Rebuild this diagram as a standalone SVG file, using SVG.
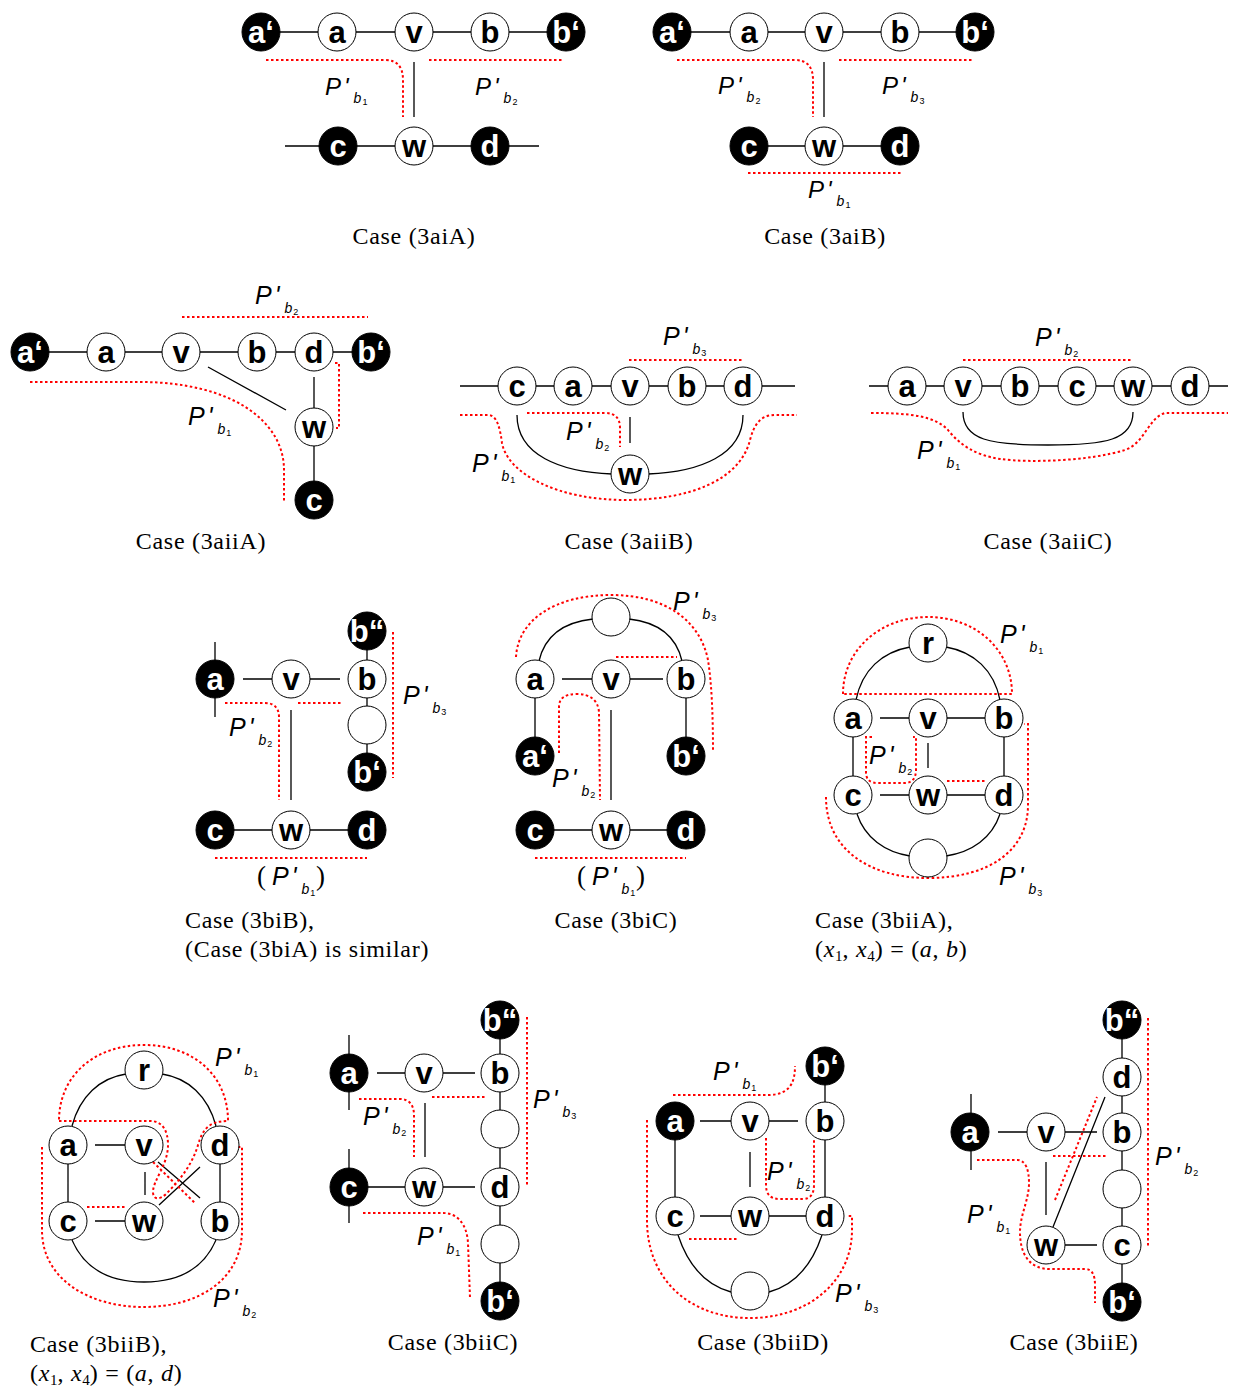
<svg xmlns="http://www.w3.org/2000/svg" width="1233" height="1390" viewBox="0 0 1233 1390">
<style>
.n{fill:#fff;stroke:#000;stroke-width:1}
.k{fill:#000;stroke:#000;stroke-width:1}
.t{font-family:"Liberation Sans",Arial,sans-serif;font-weight:bold;font-size:31px;text-anchor:middle;fill:#000}
.tw{fill:#fff}
.e{fill:none;stroke:#000;stroke-width:1.3}
.r{fill:none;stroke:#f00;stroke-width:2;stroke-dasharray:2.5 2.5}
.pl{font-family:"Liberation Sans",Arial,sans-serif;font-style:italic;font-size:25px;fill:#000}
.pl1{font-family:"Liberation Sans",Arial,sans-serif;font-style:italic;font-size:24px;fill:#000}
.sb{font-size:14px}
.sn{font-size:9px;font-style:normal}
.cap{font-family:"Liberation Serif","Times New Roman",serif;font-size:24px;letter-spacing:0.7px;fill:#000}
.cc{text-anchor:middle}
.mi{font-style:italic}
.ms{font-size:15px;letter-spacing:0}
.par{font-family:"Liberation Serif","Times New Roman",serif;font-size:27px;fill:#000}
</style>
<rect width="1233" height="1390" fill="#fff"/>

<g id="connectors">
<path class="e" d="M261,32 H566 M414,62 V117 M285,146 H539"/>
<path class="e" d="M672,32 H975 M824,62 V117 M749,146 H900"/>
<path class="e" d="M30,352 H371 M208,367 L286,410 M314,377 V408 M314,446 V481"/>
<path class="e" d="M460,386 H795 M630,417 V443 M517,415 C517,455 560,472 612,474 M743,415 C743,455 700,472 648,474"/>
<path class="e" d="M869,386 H1228 M963,412 C963,440 990,445 1048,445 C1106,445 1133,440 1133,412"/>
<path class="e" d="M215,642 V717 M243,679 H272 M310,679 H340 M367,631 V772 M291,710 V800 M215,830 H367"/>
<path class="e" d="M539,661 C545,635 565,622 593,619 M682,661 C676,635 656,622 629,619 M562,679 H592 M630,679 H663 M535,698 V737 M686,698 V737 M611,710 V800 M535,830 H686"/>
<path class="e" d="M856,700 C862,670 882,652 910,647 M1000,700 C994,670 974,652 946,647 M857,814 C865,838 885,852 910,856 M1000,814 C992,838 972,852 946,856 M880,718 H909 M947,718 H985 M853,737 V776 M1004,737 V776 M928,743 V768 M880,795 H909 M947,795 H985"/>
<path class="e" d="M72,1126 C80,1096 100,1078 126,1074 M216,1126 C208,1096 188,1078 162,1074 M72,1240 C85,1270 110,1282 144,1282 C178,1282 203,1270 216,1240 M95,1145 H125 M68,1164 V1202 M220,1164 V1202 M95,1221 H125 M145,1172 V1195 M158,1162 L200,1198 M159,1205 L200,1167"/>
<path class="e" d="M349,1035 V1110 M349,1149 V1223 M377,1073 H405 M443,1073 H475 M349,1187 H405 M443,1187 H475 M500,1020 V1301 M425,1103 V1157"/>
<path class="e" d="M700,1121 H731 M769,1121 H798 M825,1066 V1216 M675,1121 V1216 M750,1152 V1187 M700,1216 H731 M769,1216 H807 M678,1235 C688,1265 705,1285 731,1292 M822,1235 C812,1265 795,1285 769,1292"/>
<path class="e" d="M1122,1020 V1302 M971,1094 V1170 M998,1132 H1027 M1065,1132 H1097 M1065,1245 H1097 M1046,1162 V1215 M1053,1227 L1105,1097"/>
</g>

<g id="paths">
<path class="r" d="M266,60 H385 Q403,60 403,80 V117 M429,60 H564"/>
<path class="r" d="M677,60 H795 Q813,60 813,80 V117 M839,60 H974 M748,173 H902"/>
<path class="r" d="M182,317 H368 M335,363 H339 V428 H336 M30,382 H140 C230,382 284,420 284,470 V503"/>
<path class="r" d="M629,360 H743 M527,413 H605 C615,413 620,418 620,428 V447 M460,415 H488 C497,415 500,428 502,443 C508,475 560,500 625,500 C690,500 740,480 750,440 C754,425 760,415 775,415 H797"/>
<path class="r" d="M963,360 H1133 M871,413 C910,413 935,416 948,430 C960,445 975,455 1000,459 C1030,463 1090,461 1125,450 C1145,443 1148,418 1165,413 H1228"/>
<path class="r" d="M393,632 V778 M225,703 H265 C274,703 279,708 279,717 V800 M298,703 H343 M215,858 H367"/>
<path class="r" d="M516,657 C518,620 555,595 611,595 C665,595 700,620 708,660 C712,685 713,720 713,752 M616,657 H677 M559,753 V707 C559,698 565,694 577,694 C590,694 598,700 599,712 L600,800 M535,858 H686"/>
<path class="r" d="M843,694 C843,650 880,617 928,617 C976,617 1012,650 1012,694 Z M872,737 H866 V772 C866,780 870,783 878,783 H905 C912,783 916,778 916,770 V737 H913 M947,781 H985 M826,797 C826,850 870,878 928,878 C990,878 1028,850 1028,805 V724 H1024"/>
<path class="r" d="M59,1121 L150,1121 C162,1121 168,1130 168,1145 C168,1165 153,1180 153,1192 C153,1200 160,1200 166,1194 C180,1180 192,1165 198,1145 C203,1128 210,1121 228,1121 C228,1075 193,1045 144,1045 C95,1045 59,1075 59,1121 Z M153,1162 L195,1203 M87,1207 H125 M42,1147 V1230 C42,1280 90,1307 144,1307 C198,1307 242,1280 242,1230 V1147 H238"/>
<path class="r" d="M527,1017 V1187 M359,1099 H400 C409,1099 414,1105 414,1115 V1157 M432,1097 H485 M363,1213 H443 C458,1213 467,1225 468,1243 L470,1298"/>
<path class="r" d="M673,1095 H770 C788,1094 795,1085 795,1066 M766,1138 V1185 C766,1195 771,1199 780,1199 H803 C811,1199 814,1193 814,1185 V1140 M689,1239 H738 M647,1120 V1220 C647,1280 690,1318 750,1318 C810,1318 852,1280 852,1230 V1216 H848"/>
<path class="r" d="M1055,1200 L1097,1097 M1053,1156 H1107 M1148,1018 V1246 M977,1160 H1018 C1026,1161 1029,1170 1029,1183 C1029,1200 1020,1215 1020,1232 C1020,1255 1030,1269 1050,1269 H1085 C1092,1269 1095,1275 1095,1285 V1303"/>
</g>

<g id="n1-ap"><circle class="k" cx="261" cy="32" r="19"/><text class="t tw" x="261" y="43">a‘</text></g>
<g id="n1-a"><circle class="n" cx="337" cy="32" r="19"/><text class="t" x="337" y="43">a</text></g>
<g id="n1-v"><circle class="n" cx="414" cy="32" r="19"/><text class="t" x="414" y="43">v</text></g>
<g id="n1-b"><circle class="n" cx="490" cy="32" r="19"/><text class="t" x="490" y="43">b</text></g>
<g id="n1-bp"><circle class="k" cx="566" cy="32" r="19"/><text class="t tw" x="566" y="43">b‘</text></g>
<g id="n1-c"><circle class="k" cx="338" cy="146" r="19"/><text class="t tw" x="338" y="157">c</text></g>
<g id="n1-w"><circle class="n" cx="414" cy="146" r="19"/><text class="t" x="414" y="157">w</text></g>
<g id="n1-d"><circle class="k" cx="490" cy="146" r="19"/><text class="t tw" x="490" y="157">d</text></g>

<g id="n2-ap"><circle class="k" cx="672" cy="32" r="19"/><text class="t tw" x="672" y="43">a‘</text></g>
<g id="n2-a"><circle class="n" cx="749" cy="32" r="19"/><text class="t" x="749" y="43">a</text></g>
<g id="n2-v"><circle class="n" cx="824" cy="32" r="19"/><text class="t" x="824" y="43">v</text></g>
<g id="n2-b"><circle class="n" cx="900" cy="32" r="19"/><text class="t" x="900" y="43">b</text></g>
<g id="n2-bp"><circle class="k" cx="975" cy="32" r="19"/><text class="t tw" x="975" y="43">b‘</text></g>
<g id="n2-c"><circle class="k" cx="749" cy="146" r="19"/><text class="t tw" x="749" y="157">c</text></g>
<g id="n2-w"><circle class="n" cx="824" cy="146" r="19"/><text class="t" x="824" y="157">w</text></g>
<g id="n2-d"><circle class="k" cx="900" cy="146" r="19"/><text class="t tw" x="900" y="157">d</text></g>

<g id="n3-ap"><circle class="k" cx="30" cy="352" r="19"/><text class="t tw" x="30" y="363">a‘</text></g>
<g id="n3-a"><circle class="n" cx="106" cy="352" r="19"/><text class="t" x="106" y="363">a</text></g>
<g id="n3-v"><circle class="n" cx="181" cy="352" r="19"/><text class="t" x="181" y="363">v</text></g>
<g id="n3-b"><circle class="n" cx="257" cy="352" r="19"/><text class="t" x="257" y="363">b</text></g>
<g id="n3-d"><circle class="n" cx="314" cy="352" r="19"/><text class="t" x="314" y="363">d</text></g>
<g id="n3-bp"><circle class="k" cx="371" cy="352" r="19"/><text class="t tw" x="371" y="363">b‘</text></g>
<g id="n3-w"><circle class="n" cx="314" cy="427" r="19"/><text class="t" x="314" y="438">w</text></g>
<g id="n3-c"><circle class="k" cx="314" cy="500" r="19"/><text class="t tw" x="314" y="511">c</text></g>

<g id="n4-c"><circle class="n" cx="517" cy="386" r="19"/><text class="t" x="517" y="397">c</text></g>
<g id="n4-a"><circle class="n" cx="573" cy="386" r="19"/><text class="t" x="573" y="397">a</text></g>
<g id="n4-v"><circle class="n" cx="630" cy="386" r="19"/><text class="t" x="630" y="397">v</text></g>
<g id="n4-b"><circle class="n" cx="687" cy="386" r="19"/><text class="t" x="687" y="397">b</text></g>
<g id="n4-d"><circle class="n" cx="743" cy="386" r="19"/><text class="t" x="743" y="397">d</text></g>
<g id="n4-w"><circle class="n" cx="630" cy="474" r="19"/><text class="t" x="630" y="485">w</text></g>

<g id="n5-a"><circle class="n" cx="907" cy="386" r="19"/><text class="t" x="907" y="397">a</text></g>
<g id="n5-v"><circle class="n" cx="963" cy="386" r="19"/><text class="t" x="963" y="397">v</text></g>
<g id="n5-b"><circle class="n" cx="1020" cy="386" r="19"/><text class="t" x="1020" y="397">b</text></g>
<g id="n5-c"><circle class="n" cx="1077" cy="386" r="19"/><text class="t" x="1077" y="397">c</text></g>
<g id="n5-w"><circle class="n" cx="1133" cy="386" r="19"/><text class="t" x="1133" y="397">w</text></g>
<g id="n5-d"><circle class="n" cx="1190" cy="386" r="19"/><text class="t" x="1190" y="397">d</text></g>

<g id="n6-bpp"><circle class="k" cx="367" cy="631" r="19"/><text class="t tw" x="367" y="642">b“</text></g>
<g id="n6-a"><circle class="k" cx="215" cy="679" r="19"/><text class="t tw" x="215" y="690">a</text></g>
<g id="n6-v"><circle class="n" cx="291" cy="679" r="19"/><text class="t" x="291" y="690">v</text></g>
<g id="n6-b"><circle class="n" cx="367" cy="679" r="19"/><text class="t" x="367" y="690">b</text></g>
<g id="n6-x"><circle class="n" cx="367" cy="725" r="19"/></g>
<g id="n6-bp"><circle class="k" cx="367" cy="772" r="19"/><text class="t tw" x="367" y="783">b‘</text></g>
<g id="n6-c"><circle class="k" cx="215" cy="830" r="19"/><text class="t tw" x="215" y="841">c</text></g>
<g id="n6-w"><circle class="n" cx="291" cy="830" r="19"/><text class="t" x="291" y="841">w</text></g>
<g id="n6-d"><circle class="k" cx="367" cy="830" r="19"/><text class="t tw" x="367" y="841">d</text></g>

<g id="n7-x"><circle class="n" cx="611" cy="617" r="19"/></g>
<g id="n7-a"><circle class="n" cx="535" cy="679" r="19"/><text class="t" x="535" y="690">a</text></g>
<g id="n7-v"><circle class="n" cx="611" cy="679" r="19"/><text class="t" x="611" y="690">v</text></g>
<g id="n7-b"><circle class="n" cx="686" cy="679" r="19"/><text class="t" x="686" y="690">b</text></g>
<g id="n7-ap"><circle class="k" cx="535" cy="756" r="19"/><text class="t tw" x="535" y="767">a‘</text></g>
<g id="n7-bp"><circle class="k" cx="686" cy="756" r="19"/><text class="t tw" x="686" y="767">b‘</text></g>
<g id="n7-c"><circle class="k" cx="535" cy="830" r="19"/><text class="t tw" x="535" y="841">c</text></g>
<g id="n7-w"><circle class="n" cx="611" cy="830" r="19"/><text class="t" x="611" y="841">w</text></g>
<g id="n7-d"><circle class="k" cx="686" cy="830" r="19"/><text class="t tw" x="686" y="841">d</text></g>

<g id="n8-r"><circle class="n" cx="928" cy="643" r="19"/><text class="t" x="928" y="654">r</text></g>
<g id="n8-a"><circle class="n" cx="853" cy="718" r="19"/><text class="t" x="853" y="729">a</text></g>
<g id="n8-v"><circle class="n" cx="928" cy="718" r="19"/><text class="t" x="928" y="729">v</text></g>
<g id="n8-b"><circle class="n" cx="1004" cy="718" r="19"/><text class="t" x="1004" y="729">b</text></g>
<g id="n8-c"><circle class="n" cx="853" cy="795" r="19"/><text class="t" x="853" y="806">c</text></g>
<g id="n8-w"><circle class="n" cx="928" cy="795" r="19"/><text class="t" x="928" y="806">w</text></g>
<g id="n8-d"><circle class="n" cx="1004" cy="795" r="19"/><text class="t" x="1004" y="806">d</text></g>
<g id="n8-x"><circle class="n" cx="928" cy="858" r="19"/></g>

<g id="n9-r"><circle class="n" cx="144" cy="1070" r="19"/><text class="t" x="144" y="1081">r</text></g>
<g id="n9-a"><circle class="n" cx="68" cy="1145" r="19"/><text class="t" x="68" y="1156">a</text></g>
<g id="n9-v"><circle class="n" cx="144" cy="1145" r="19"/><text class="t" x="144" y="1156">v</text></g>
<g id="n9-d"><circle class="n" cx="220" cy="1145" r="19"/><text class="t" x="220" y="1156">d</text></g>
<g id="n9-c"><circle class="n" cx="68" cy="1221" r="19"/><text class="t" x="68" y="1232">c</text></g>
<g id="n9-w"><circle class="n" cx="144" cy="1221" r="19"/><text class="t" x="144" y="1232">w</text></g>
<g id="n9-b"><circle class="n" cx="220" cy="1221" r="19"/><text class="t" x="220" y="1232">b</text></g>

<g id="n10-bpp"><circle class="k" cx="500" cy="1020" r="19"/><text class="t tw" x="500" y="1031">b“</text></g>
<g id="n10-a"><circle class="k" cx="349" cy="1073" r="19"/><text class="t tw" x="349" y="1084">a</text></g>
<g id="n10-v"><circle class="n" cx="424" cy="1073" r="19"/><text class="t" x="424" y="1084">v</text></g>
<g id="n10-b"><circle class="n" cx="500" cy="1073" r="19"/><text class="t" x="500" y="1084">b</text></g>
<g id="n10-x1"><circle class="n" cx="500" cy="1129" r="19"/></g>
<g id="n10-c"><circle class="k" cx="349" cy="1187" r="19"/><text class="t tw" x="349" y="1198">c</text></g>
<g id="n10-w"><circle class="n" cx="424" cy="1187" r="19"/><text class="t" x="424" y="1198">w</text></g>
<g id="n10-d"><circle class="n" cx="500" cy="1187" r="19"/><text class="t" x="500" y="1198">d</text></g>
<g id="n10-x2"><circle class="n" cx="500" cy="1244" r="19"/></g>
<g id="n10-bp"><circle class="k" cx="500" cy="1301" r="19"/><text class="t tw" x="500" y="1312">b‘</text></g>

<g id="n11-bp"><circle class="k" cx="825" cy="1066" r="19"/><text class="t tw" x="825" y="1077">b‘</text></g>
<g id="n11-a"><circle class="k" cx="675" cy="1121" r="19"/><text class="t tw" x="675" y="1132">a</text></g>
<g id="n11-v"><circle class="n" cx="750" cy="1121" r="19"/><text class="t" x="750" y="1132">v</text></g>
<g id="n11-b"><circle class="n" cx="825" cy="1121" r="19"/><text class="t" x="825" y="1132">b</text></g>
<g id="n11-c"><circle class="n" cx="675" cy="1216" r="19"/><text class="t" x="675" y="1227">c</text></g>
<g id="n11-w"><circle class="n" cx="750" cy="1216" r="19"/><text class="t" x="750" y="1227">w</text></g>
<g id="n11-d"><circle class="n" cx="825" cy="1216" r="19"/><text class="t" x="825" y="1227">d</text></g>
<g id="n11-x"><circle class="n" cx="750" cy="1291" r="19"/></g>

<g id="n12-bpp"><circle class="k" cx="1122" cy="1020" r="19"/><text class="t tw" x="1122" y="1031">b“</text></g>
<g id="n12-d"><circle class="n" cx="1122" cy="1077" r="19"/><text class="t" x="1122" y="1088">d</text></g>
<g id="n12-b"><circle class="n" cx="1122" cy="1132" r="19"/><text class="t" x="1122" y="1143">b</text></g>
<g id="n12-x"><circle class="n" cx="1122" cy="1189" r="19"/></g>
<g id="n12-c"><circle class="n" cx="1122" cy="1245" r="19"/><text class="t" x="1122" y="1256">c</text></g>
<g id="n12-bp"><circle class="k" cx="1122" cy="1302" r="19"/><text class="t tw" x="1122" y="1313">b‘</text></g>
<g id="n12-a"><circle class="k" cx="970" cy="1132" r="19"/><text class="t tw" x="970" y="1143">a</text></g>
<g id="n12-v"><circle class="n" cx="1046" cy="1132" r="19"/><text class="t" x="1046" y="1143">v</text></g>
<g id="n12-w"><circle class="n" cx="1046" cy="1245" r="19"/><text class="t" x="1046" y="1256">w</text></g>

<g id="labels">
<text class="pl1" x="325" y="95">P<tspan dx="3">'</tspan><tspan class="sb" dx="5" dy="8">b</tspan><tspan class="sn" dx="1" dy="2">1</tspan></text>
<text class="pl1" x="475" y="95">P<tspan dx="3">'</tspan><tspan class="sb" dx="5" dy="8">b</tspan><tspan class="sn" dx="1" dy="2">2</tspan></text>
<text class="pl1" x="718" y="94">P<tspan dx="3">'</tspan><tspan class="sb" dx="5" dy="8">b</tspan><tspan class="sn" dx="1" dy="2">2</tspan></text>
<text class="pl1" x="882" y="94">P<tspan dx="3">'</tspan><tspan class="sb" dx="5" dy="8">b</tspan><tspan class="sn" dx="1" dy="2">3</tspan></text>
<text class="pl1" x="808" y="198">P<tspan dx="3">'</tspan><tspan class="sb" dx="5" dy="8">b</tspan><tspan class="sn" dx="1" dy="2">1</tspan></text>
<text class="pl" x="255" y="304">P<tspan dx="3">'</tspan><tspan class="sb" dx="5" dy="9">b</tspan><tspan class="sn" dx="1" dy="2">2</tspan></text>
<text class="pl" x="188" y="425">P<tspan dx="3">'</tspan><tspan class="sb" dx="5" dy="9">b</tspan><tspan class="sn" dx="1" dy="2">1</tspan></text>
<text class="pl" x="663" y="345">P<tspan dx="3">'</tspan><tspan class="sb" dx="5" dy="9">b</tspan><tspan class="sn" dx="1" dy="2">3</tspan></text>
<text class="pl" x="566" y="440">P<tspan dx="3">'</tspan><tspan class="sb" dx="5" dy="9">b</tspan><tspan class="sn" dx="1" dy="2">2</tspan></text>
<text class="pl" x="472" y="472">P<tspan dx="3">'</tspan><tspan class="sb" dx="5" dy="9">b</tspan><tspan class="sn" dx="1" dy="2">1</tspan></text>
<text class="pl" x="1035" y="346">P<tspan dx="3">'</tspan><tspan class="sb" dx="5" dy="9">b</tspan><tspan class="sn" dx="1" dy="2">2</tspan></text>
<text class="pl" x="917" y="459">P<tspan dx="3">'</tspan><tspan class="sb" dx="5" dy="9">b</tspan><tspan class="sn" dx="1" dy="2">1</tspan></text>
<text class="pl" x="403" y="704">P<tspan dx="3">'</tspan><tspan class="sb" dx="5" dy="9">b</tspan><tspan class="sn" dx="1" dy="2">3</tspan></text>
<text class="pl" x="229" y="736">P<tspan dx="3">'</tspan><tspan class="sb" dx="5" dy="9">b</tspan><tspan class="sn" dx="1" dy="2">2</tspan></text>
<text class="par" x="257" y="885">(</text>
<text class="pl" x="272" y="885">P<tspan dx="3">'</tspan><tspan class="sb" dx="5" dy="9">b</tspan><tspan class="sn" dx="1" dy="2">1</tspan></text>
<text class="par" x="316" y="885">)</text>
<text class="pl" x="673" y="610">P<tspan dx="3">'</tspan><tspan class="sb" dx="5" dy="9">b</tspan><tspan class="sn" dx="1" dy="2">3</tspan></text>
<text class="pl" x="552" y="787">P<tspan dx="3">'</tspan><tspan class="sb" dx="5" dy="9">b</tspan><tspan class="sn" dx="1" dy="2">2</tspan></text>
<text class="par" x="577" y="885">(</text>
<text class="pl" x="592" y="885">P<tspan dx="3">'</tspan><tspan class="sb" dx="5" dy="9">b</tspan><tspan class="sn" dx="1" dy="2">1</tspan></text>
<text class="par" x="636" y="885">)</text>
<text class="pl" x="1000" y="643">P<tspan dx="3">'</tspan><tspan class="sb" dx="5" dy="9">b</tspan><tspan class="sn" dx="1" dy="2">1</tspan></text>
<text class="pl" x="869" y="764">P<tspan dx="3">'</tspan><tspan class="sb" dx="5" dy="9">b</tspan><tspan class="sn" dx="1" dy="2">2</tspan></text>
<text class="pl" x="999" y="885">P<tspan dx="3">'</tspan><tspan class="sb" dx="5" dy="9">b</tspan><tspan class="sn" dx="1" dy="2">3</tspan></text>
<text class="pl" x="215" y="1066">P<tspan dx="3">'</tspan><tspan class="sb" dx="5" dy="9">b</tspan><tspan class="sn" dx="1" dy="2">1</tspan></text>
<text class="pl" x="213" y="1307">P<tspan dx="3">'</tspan><tspan class="sb" dx="5" dy="9">b</tspan><tspan class="sn" dx="1" dy="2">2</tspan></text>
<text class="pl" x="363" y="1125">P<tspan dx="3">'</tspan><tspan class="sb" dx="5" dy="9">b</tspan><tspan class="sn" dx="1" dy="2">2</tspan></text>
<text class="pl" x="533" y="1108">P<tspan dx="3">'</tspan><tspan class="sb" dx="5" dy="9">b</tspan><tspan class="sn" dx="1" dy="2">3</tspan></text>
<text class="pl" x="417" y="1245">P<tspan dx="3">'</tspan><tspan class="sb" dx="5" dy="9">b</tspan><tspan class="sn" dx="1" dy="2">1</tspan></text>
<text class="pl" x="713" y="1080">P<tspan dx="3">'</tspan><tspan class="sb" dx="5" dy="9">b</tspan><tspan class="sn" dx="1" dy="2">1</tspan></text>
<text class="pl" x="767" y="1180">P<tspan dx="3">'</tspan><tspan class="sb" dx="5" dy="9">b</tspan><tspan class="sn" dx="1" dy="2">2</tspan></text>
<text class="pl" x="835" y="1302">P<tspan dx="3">'</tspan><tspan class="sb" dx="5" dy="9">b</tspan><tspan class="sn" dx="1" dy="2">3</tspan></text>
<text class="pl" x="1155" y="1165">P<tspan dx="3">'</tspan><tspan class="sb" dx="5" dy="9">b</tspan><tspan class="sn" dx="1" dy="2">2</tspan></text>
<text class="pl" x="967" y="1223">P<tspan dx="3">'</tspan><tspan class="sb" dx="5" dy="9">b</tspan><tspan class="sn" dx="1" dy="2">1</tspan></text>
</g>

<g id="captions">
<text class="cap cc" x="414" y="244">Case (3aiA)</text>
<text class="cap cc" x="825" y="244">Case (3aiB)</text>
<text class="cap cc" x="201" y="549">Case (3aiiA)</text>
<text class="cap cc" x="629" y="549">Case (3aiiB)</text>
<text class="cap cc" x="1048" y="549">Case (3aiiC)</text>
<text class="cap" x="185" y="928">Case (3biB),</text>
<text class="cap" x="185" y="957">(Case (3biA) is similar)</text>
<text class="cap cc" x="616" y="928">Case (3biC)</text>
<text class="cap" x="815" y="928">Case (3biiA),</text>
<text class="cap" x="815" y="957">(<tspan class="mi">x</tspan><tspan class="ms" dy="4">1</tspan><tspan dy="-4">, </tspan><tspan class="mi">x</tspan><tspan class="ms" dy="4">4</tspan><tspan dy="-4">) = (</tspan><tspan class="mi">a</tspan>, <tspan class="mi">b</tspan>)</text>
<text class="cap" x="30" y="1352">Case (3biiB),</text>
<text class="cap" x="30" y="1381">(<tspan class="mi">x</tspan><tspan class="ms" dy="4">1</tspan><tspan dy="-4">, </tspan><tspan class="mi">x</tspan><tspan class="ms" dy="4">4</tspan><tspan dy="-4">) = (</tspan><tspan class="mi">a</tspan>, <tspan class="mi">d</tspan>)</text>
<text class="cap cc" x="453" y="1350">Case (3biiC)</text>
<text class="cap cc" x="763" y="1350">Case (3biiD)</text>
<text class="cap cc" x="1074" y="1350">Case (3biiE)</text>
</g>
</svg>
